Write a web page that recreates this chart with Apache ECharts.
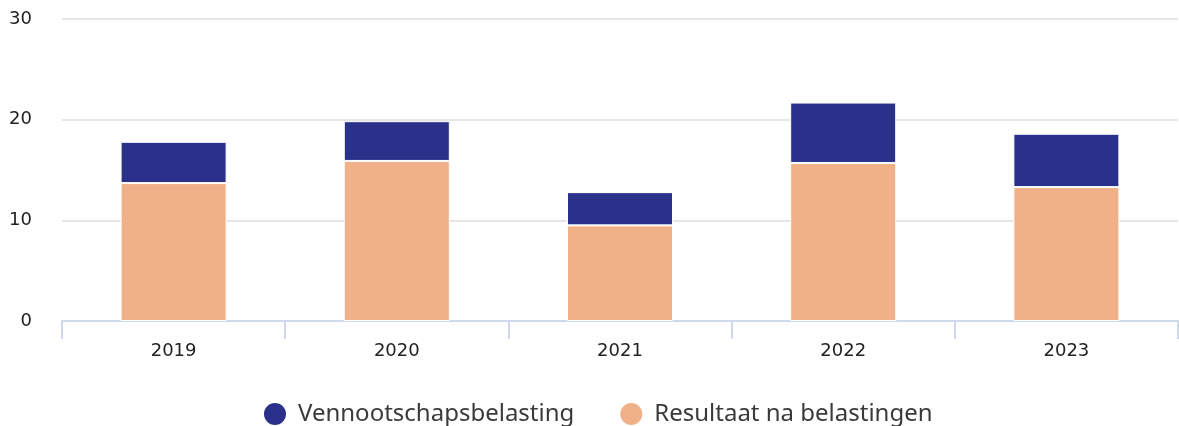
<!DOCTYPE html>
<html><head><meta charset="utf-8">
<script src="https://cdn.jsdelivr.net/npm/echarts@6/dist/echarts.min.js"></script>
<style>html,body{margin:0;padding:0;background:#fff}#c{width:1179px;height:426px}</style>
</head><body><div id="c"></div>
<script>
const years = ['2019','2020','2021','2022','2023'];
const resultaat = [13.7, 15.9, 9.5, 15.7, 13.3];
const vennootschapsbelasting = [4.1, 3.95, 3.3, 6.0, 5.3];
const yTicks = [0, 10, 20, 30];

const chart = echarts.init(document.getElementById('c'));
chart.setOption({
  animation: false,
  grid: {left: 62, right: 1, top: 19, bottom: 105},
  legend: {
    top: 396, left: 257,
    icon: 'circle', itemWidth: 24, itemHeight: 24, itemGap: 44,
    textStyle: {fontFamily: 'Noto Sans', fontSize: 24, color: '#3a3a3a', padding: [0,0,0,6]},
    data: ['Vennootschapsbelasting', 'Resultaat na belastingen']
  },
  xAxis: {
    type: 'category', data: years,
    axisLine: {lineStyle: {color: '#cfd8ec', width: 2}},
    axisTick: {show: true, length: 18, lineStyle: {color: '#cfd8ec', width: 2}},
    axisLabel: {margin: 21, fontFamily: 'DejaVu Sans', fontSize: 18, color: '#222'}
  },
  yAxis: {
    type: 'value', min: yTicks[0], max: yTicks[yTicks.length-1], interval: 10,
    axisLine: {show: false}, axisTick: {show: false},
    axisLabel: {margin: 30, fontFamily: 'DejaVu Sans', fontSize: 18, color: '#222'},
    splitLine: {lineStyle: {color: '#e6e6e6', width: 2}}
  },
  series: [
    {name: 'Resultaat na belastingen', type: 'bar', stack: 's', data: resultaat, barWidth: '47.5%',
     itemStyle: {color: '#f0b088', borderColor: '#fff', borderWidth: 1}},
    {name: 'Vennootschapsbelasting', type: 'bar', stack: 's', data: vennootschapsbelasting,
     itemStyle: {color: '#2a318a', borderColor: '#fff', borderWidth: 1}}
  ]
});
</script></body></html>
